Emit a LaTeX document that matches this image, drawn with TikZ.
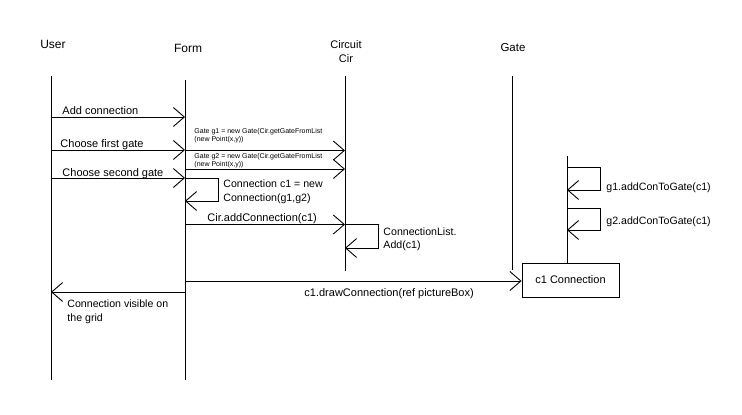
\documentclass[tikz,border=0pt]{standalone}
\usepackage{fontspec}
\setmainfont{Liberation Sans}
\usetikzlibrary{arrows.meta}
\begin{document}
\begin{tikzpicture}[x=1pt,y=-1pt,
  line width=0.9pt,
  lifeline/.style={draw=black},
  msg/.style={draw=black,-{Straight Barb[length=11pt,width=19pt,line width=0.9pt]}},
  lbl/.style={inner sep=0pt,anchor=base west,font=\fontsize{11}{13}\selectfont},
  mlbl/.style={inner sep=0pt,anchor=base west,align=left,font=\fontsize{10.6}{14}\selectfont},
  tiny/.style={inner sep=0pt,anchor=base west,align=left,font=\fontsize{7}{7.7}\selectfont},
  head/.style={inner sep=0pt,anchor=base,font=\fontsize{12}{13}\selectfont},
  objbox/.style={draw=black,minimum width=97pt,minimum height=34pt,inner sep=0pt,font=\fontsize{11}{13}\selectfont}]
\useasboundingbox[fill=white] (0,0) rectangle (742,415);

% lifeline heads (multi-line nodes are placed by the baseline of their last line)
\node[head] (huser) at (53,48) {User};
\node[head] (hform) at (188,52) {Form};
\node[head,align=center,font=\fontsize{11}{13.5}\selectfont] (hcir) at (346,62.5) {Circuit\\Cir};
\node[head,font=\fontsize{11.5}{13}\selectfont] (hgate) at (513,51) {Gate};

% lifelines
\coordinate (uTop) at (51,76);  \coordinate (uBot) at (51,380);
\coordinate (fTop) at (185,80); \coordinate (fBot) at (185,380);
\coordinate (cTop) at (345,76); \coordinate (cBot) at (345,271);
\coordinate (gTop) at (512,76); \coordinate (gBot) at (512,270);
\draw[lifeline] (uTop) -- (uBot);
\draw[lifeline] (fTop) -- (fBot);
\draw[lifeline] (cTop) -- (cBot);
\draw[lifeline] (gTop) -- (gBot);

% connection object
\node[objbox] (conn) at (570.5,280) {c1 Connection};
\coordinate (kTop) at (567,156);
\draw[lifeline] (kTop) -- (kTop |- conn.north);

% user -> form
\coordinate (u1) at (51,117); \coordinate (f1) at (185,117);
\coordinate (u2) at (51,150); \coordinate (f2) at (185,150);
\coordinate (u3) at (51,178); \coordinate (f3) at (185,178);
\draw[msg] (u1) -- (f1);
\draw[msg] (u2) -- (f2);
\draw[msg] (u3) -- (f3);
\node[lbl] (l1) at (62,114) {Add connection};
\node[lbl] (l2) at (60,147) {Choose first gate};
\node[lbl] (l3) at (62,176) {Choose second gate};

% form -> circuit
\coordinate (fg1) at (185,150.5); \coordinate (cg1) at (345,150.5);
\coordinate (fg2) at (185,169);   \coordinate (cg2) at (345,169);
\draw[msg] (fg1) -- (cg1);
\draw[msg] (fg2) -- (cg2);
\node[tiny] (t1) at (194,141) {Gate g1 = new Gate(Cir.getGateFromList\\(new Point(x,y))};
\node[tiny] (t2) at (194,166.5) {Gate g2 = new Gate(Cir.getGateFromList\\(new Point(x,y))};

% form self call
\coordinate (fs1) at (185,178); \coordinate (fs2) at (185,201);
\draw[msg] (fs1) -- (218,178) -- (218,201) -- (fs2);
\node[mlbl] (t3) at (223,201.5) {Connection c1 = new\\Connection(g1,g2)};

% form -> circuit add
\coordinate (fa) at (185,224.5); \coordinate (ca) at (345,224.5);
\draw[msg] (fa) -- (ca);
\node[lbl] (t4) at (207,221.5) {Cir.addConnection(c1)};

% circuit self call
\coordinate (cs1) at (345,224.5); \coordinate (cs2) at (345,248);
\draw[msg] (cs1) -- (378,224.5) -- (378,248) -- (cs2);
\node[mlbl,font=\fontsize{10.6}{12.8}\selectfont] (t5) at (383,248.3) {ConnectionList.\\Add(c1)};

% connection self calls
\coordinate (k1a) at (567,167); \coordinate (k1b) at (567,190);
\coordinate (k2a) at (567,208); \coordinate (k2b) at (567,230);
\draw[msg] (k1a) -- (600,167) -- (600,190) -- (k1b);
\draw[msg] (k2a) -- (600,208) -- (600,230) -- (k2b);
\node[mlbl] (t6) at (606,190.5) {g1.addConToGate(c1)};
\node[mlbl] (t7) at (606,224.5) {g2.addConToGate(c1)};

% form -> connection
\coordinate (fd) at (185,281);
\draw[msg] (fd) -- (fd -| conn.west);
\node[lbl] (t8) at (304,296.5) {c1.drawConnection(ref pictureBox)};

% form -> user
\coordinate (fr) at (185,292); \coordinate (ur) at (51,292);
\draw[msg] (fr) -- (ur);
\node[mlbl] (t9) at (67,321.5) {Connection visible on\\the grid};
\end{tikzpicture}
\end{document}
